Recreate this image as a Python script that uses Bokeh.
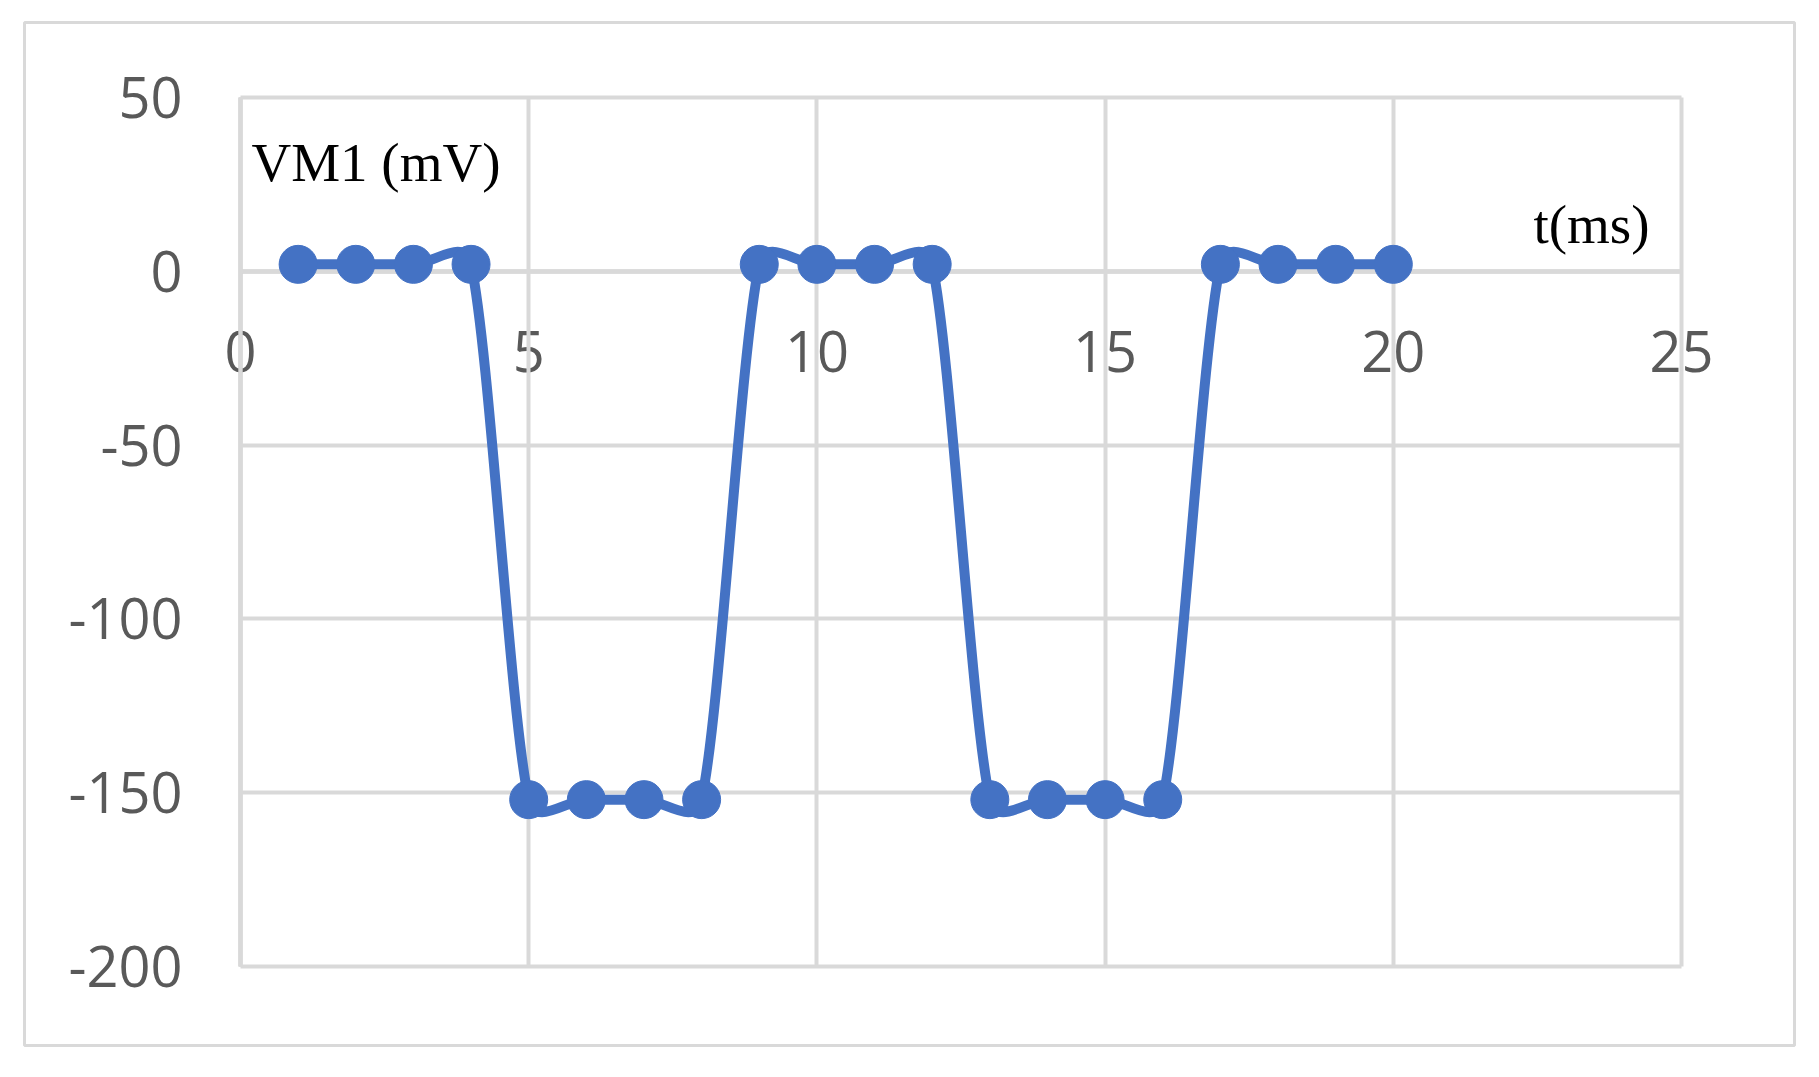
import math
from bokeh.plotting import figure
from bokeh.models import Range1d, FixedTicker, Label, ColumnDataSource, BoxAnnotation
from bokeh.embed import file_html
from bokeh.resources import INLINE

# ---- data ----
t_ms = [1, 2, 3, 4, 5, 6, 7, 8, 9, 10, 11, 12, 13, 14, 15, 16, 17, 18, 19, 20]
vm1_mv = [2, 2, 2, 2, -152, -152, -152, -152, 2, 2, 2, 2,
          -152, -152, -152, -152, 2, 2, 2, 2]
x_ticks = [0, 5, 10, 15, 20, 25]
x_tick_labels = ["0", "5", "10", "15", "20", "25"]
y_ticks = [-200, -150, -100, -50, 0, 50]
y_tick_labels = ["-200", "-150", "-100", "-50", "0", "50"]
y_title = "VM1 (mV)"
x_title = "t(ms)"

# ---- layout (page pixels) ----
PAGE_M = 0
W, H = 1800, 1060
X0, X1, Y0, Y1 = 0, 25, -200, 50          # plot area data extents
PL, PR, PT, PB = 240, 1681, 97, 966       # plot area on page
SX, SY = (PR - PL) / (X1 - X0), (PB - PT) / (Y1 - Y0)


def dx(px):
    return X0 + (px - PL) / SX


def dy(py):
    return Y1 - (py - PT) / SY


BLUE = "#4472C4"
GRID = "#d9d9d9"
AXIS = "#bfbfbf"
TXT = "#595959"

p = figure(width=W, height=H, output_backend="svg", toolbar_location=None,
           title=None,
           x_range=Range1d(dx(PAGE_M), dx(PAGE_M + W)),
           y_range=Range1d(dy(PAGE_M + H), dy(PAGE_M)),
           min_border=0, background_fill_color="white",
           border_fill_color="white")
p.outline_line_color = None

# chart-area border
p.add_layout(BoxAnnotation(left=dx(24), right=dx(1794), top=dy(22),
                           bottom=dy(1045), fill_alpha=0, line_color=GRID,
                           line_alpha=1.0, line_width=3, level="underlay"))

p.xgrid.ticker = FixedTicker(ticks=x_ticks)
p.ygrid.ticker = FixedTicker(ticks=y_ticks)
p.xgrid.bounds = (X0, X1)
p.xgrid.cross_bounds = (Y0, Y1)
p.ygrid.bounds = (Y0, Y1)
p.ygrid.cross_bounds = (X0, X1)
for g in (p.xgrid, p.ygrid):
    g.grid_line_color = GRID
    g.grid_line_width = 4

xa = p.xaxis[0]
xa.fixed_location = 0
xa.bounds = (X0, X1)
xa.level = "underlay"
xa.ticker = FixedTicker(ticks=x_ticks)
xa.major_label_overrides = dict(zip(x_ticks, x_tick_labels))
xa.axis_line_color = AXIS
xa.axis_line_width = 4
xa.major_tick_line_color = None
xa.minor_tick_line_color = None
xa.major_label_text_font = "Open Sans"
xa.major_label_text_font_size = "56px"
xa.major_label_text_color = TXT
xa.major_label_standoff = 54

ya = p.yaxis[0]
ya.fixed_location = 0
ya.bounds = (Y0, Y1)
ya.level = "underlay"
ya.ticker = FixedTicker(ticks=y_ticks)
ya.major_label_overrides = dict(zip(y_ticks, y_tick_labels))
ya.major_tick_line_color = None
ya.minor_tick_line_color = None
ya.axis_line_color = AXIS
ya.axis_line_width = 4
ya.major_label_text_font = "Open Sans"
ya.major_label_text_font_size = "56px"
ya.major_label_text_color = TXT
ya.major_label_standoff = 52

# smoothed line (Excel-style bezier from the data points)
pts = list(zip(t_ms, vm1_mv))
n = len(pts)


def dist(a, b):
    return math.hypot((a[0] - b[0]) * SX, (a[1] - b[1]) * SY)


bx0, by0, bx1, by1 = [], [], [], []
cx0, cy0, cx1, cy1 = [], [], [], []
for i in range(n - 1):
    p0 = pts[i - 1] if i > 0 else pts[i]
    p1 = pts[i]
    p2 = pts[i + 1]
    p3 = pts[i + 2] if i + 2 < n else pts[i + 1]
    d02, d13, d12 = dist(p0, p2), dist(p1, p3), dist(p1, p2)
    f0 = 1 / 6 if d02 / 6 < d12 / 2 else d12 / (2 * d02)
    f1 = 1 / 6 if d13 / 6 < d12 / 2 else d12 / (2 * d13)
    bx0.append(p1[0]); by0.append(p1[1])
    bx1.append(p2[0]); by1.append(p2[1])
    cx0.append(p1[0] + (p2[0] - p0[0]) * f0)
    cy0.append(p1[1] + (p2[1] - p0[1]) * f0)
    cx1.append(p2[0] - (p3[0] - p1[0]) * f1)
    cy1.append(p2[1] - (p3[1] - p1[1]) * f1)

bsrc = ColumnDataSource(dict(x0=bx0, y0=by0, x1=bx1, y1=by1,
                             cx0=cx0, cy0=cy0, cx1=cx1, cy1=cy1))
p.bezier(x0="x0", y0="y0", x1="x1", y1="y1", cx0="cx0", cy0="cy0",
         cx1="cx1", cy1="cy1", source=bsrc, line_color=BLUE, line_width=10)

p.scatter(t_ms, vm1_mv, size=38, fill_color=BLUE, line_color=BLUE,
          marker="circle")

# axis titles inside plot
p.add_layout(Label(x=dx(251), y=dy(162), text=y_title, text_align="left",
                   text_baseline="middle", text_font="Liberation Serif",
                   text_font_size="55px", text_color="black"))
p.add_layout(Label(x=dx(1649), y=dy(224), text=x_title,
                   text_align="right", text_baseline="middle",
                   text_font="Liberation Serif", text_font_size="55px",
                   text_color="black"))

open("out.html", "w").write(file_html(p, INLINE))
